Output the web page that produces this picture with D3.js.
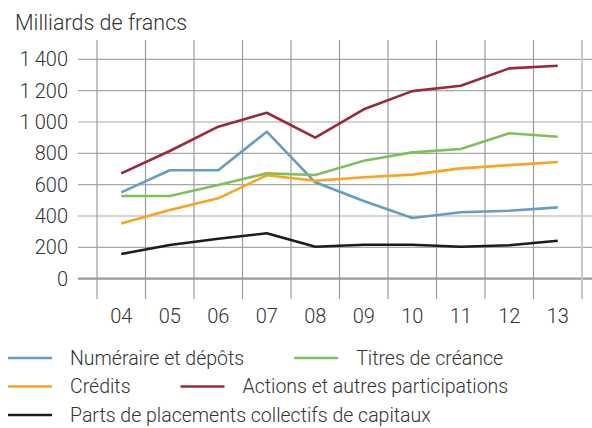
<!DOCTYPE html>
<html>
<head>
<meta charset="utf-8">
<script src="https://cdn.jsdelivr.net/npm/d3@7"></script>
<style>
  body { margin: 0; background: #fff; }
  svg text { font-family: Roboto, "Liberation Sans", sans-serif; font-weight: 300; fill: #333; }
</style>
</head>
<body>
<svg id="chart" width="592" height="428"></svg>
<script>

// years on the x axis
var years = ['04', '05', '06', '07', '08', '09', '10', '11', '12', '13']

var yTicks = [0, 200, 400, 600, 800, 1000, 1200, 1400]

// series values, milliards de francs
var numeraire = [551, 692, 692, 938, 615, 496, 387, 424, 434, 455]
var titres    = [528, 528, 598, 672, 662, 753, 806, 828, 928, 906]
var credits   = [353, 438, 513, 660, 625, 647, 664, 704, 725, 745]
var actions   = [672, 815, 970, 1059, 900, 1081, 1197, 1231, 1342, 1359]
var parts     = [158, 215, 255, 290, 204, 217, 217, 204, 213, 242]

var seriesNames = [
    'Numéraire et dépôts',
    'Titres de créance',
    'Crédits',
    'Actions et autres participations',
    'Parts de placements collectifs de capitaux'
]

var colours = ['#659dc6', '#80c05b', '#fba321', '#9a2a39', '#1c1c1c']

var series = [numeraire, titres, credits, actions, parts].map(function (values, i) {
    return { name: seriesNames[i], colour: colours[i], values: values }
})

var svg = d3.select('#chart')

var x = d3.scaleBand().domain(years).range([97, 582])

var y = d3.scaleLinear().domain([0, 1400]).range([278.7, 59.3])

// title
svg.append('text')
    .attr('x', 15)
    .attr('y', 30)
    .attr('font-size', '21.5px')
    .text('Milliards de francs')

// horizontal grid
svg.append('g')
    .selectAll('line')
    .data(yTicks)
    .enter().append('line')
    .attr('x1', 78)
    .attr('x2', 592)
    .attr('y1', d => y(d))
    .attr('y2', d => y(d))
    .attr('stroke', d => d === 0 ? '#9a9a9a' : '#a8a8a8')
    .attr('stroke-width', d => d === 0 ? 2.2 : 1.2)

// vertical grid, on the band edges
var edges = years.map(d => x(d)).concat([x.range()[1]])

svg.append('g')
    .selectAll('line')
    .data(edges)
    .enter().append('line')
    .attr('x1', d => d)
    .attr('x2', d => d)
    .attr('y1', 40)
    .attr('y2', 299)
    .attr('stroke', (d, i) => i === edges.length - 1 ? '#c8c8c8' : '#9c9c9c')
    .attr('stroke-width', (d, i) => i === edges.length - 1 ? 2 : 1.2)

// y tick labels
svg.append('g')
    .selectAll('text')
    .data(yTicks)
    .enter().append('text')
    .attr('x', 68)
    .attr('y', d => y(d))
    .attr('dy', '0.35em')
    .attr('text-anchor', 'end')
    .attr('font-size', '20px')
    .text(d => d3.format(',')(d).replace(',', '\u2009'))

// x tick labels
svg.append('g')
    .selectAll('text')
    .data(years)
    .enter().append('text')
    .attr('x', d => x(d) + x.bandwidth() / 2)
    .attr('y', 323)
    .attr('text-anchor', 'middle')
    .attr('font-size', '20px')
    .text(d => d)

var line = d3.line()
    .x((d, i) => x(years[i]) + x.bandwidth() / 2)
    .y(d => y(d))

svg.append('g')
    .selectAll('path')
    .data(series)
    .enter().append('path')
    .attr('d', d => line(d.values))
    .attr('fill', 'none')
    .attr('stroke', d => d.colour)
    .attr('stroke-width', 2.6)
    .attr('stroke-linejoin', 'round')

// legend, flowing left to right and wrapping
var legend = svg.append('g')

var lx = 8, ly = 358, rowH = 28.5, gap = 50

series.forEach(function (s) {

    var item = legend.append('g')

    item.append('line')
        .attr('x1', 0)
        .attr('x2', 44)
        .attr('stroke', s.colour)
        .attr('stroke-width', 2.6)

    var label = item.append('text')
        .attr('x', 62)
        .attr('dy', '0.35em')
        .attr('font-size', '19.5px')
        .text(s.name)

    var w = 62 + label.node().getComputedTextLength()

    if (lx > 8 && lx + w > 592) {
        lx = 8
        ly += rowH
    }

    item.attr('transform', 'translate(' + lx + ',' + ly + ')')

    lx += w + gap

})

</script>
</body>
</html>
